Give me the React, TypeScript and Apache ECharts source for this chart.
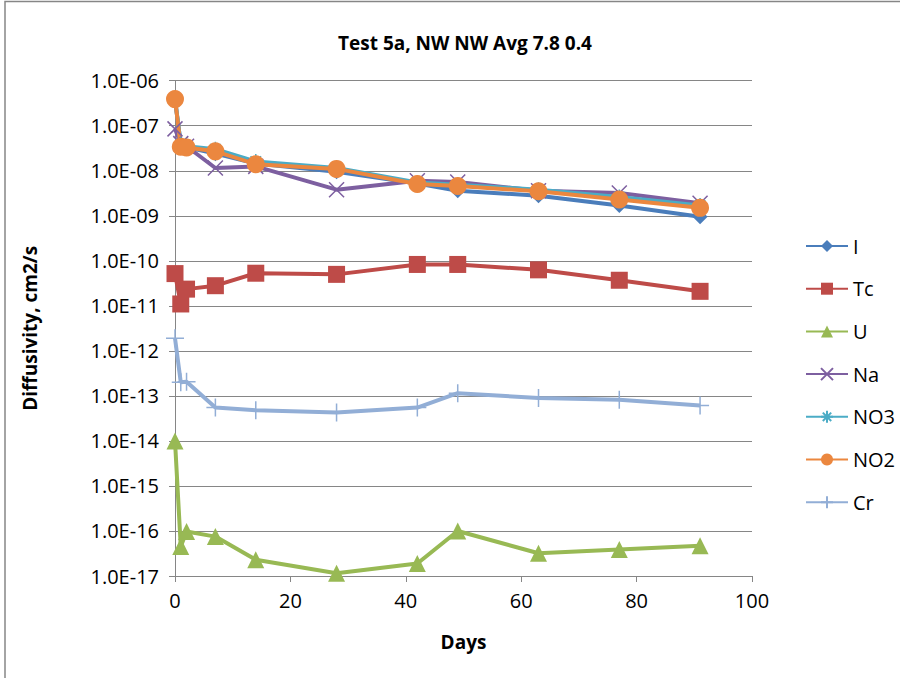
import React, { useEffect, useRef } from "react";
import * as echarts from "echarts";

const days = [0, 1, 2, 7, 14, 28, 42, 49, 63, 77, 91];
const seriesNames = ["I", "Tc", "U", "Na", "NO3", "NO2", "Cr"];
const valI = [3.7e-7, 4.0e-8, 3.3e-8, 2.4e-8, 1.45e-8, 9.5e-9, 5.2e-9, 3.6e-9, 2.8e-9, 1.7e-9, 9.5e-10];
const valTc = [5.2e-11, 1.1e-11, 2.35e-11, 2.8e-11, 5.3e-11, 5.0e-11, 8.3e-11, 8.3e-11, 6.3e-11, 3.7e-11, 2.1e-11];
const valU = [1.0e-14, 4.5e-17, 9.7e-17, 7.5e-17, 2.3e-17, 1.15e-17, 1.9e-17, 1.0e-16, 3.2e-17, 3.9e-17, 4.7e-17];
const valNa = [8.5e-8, 4.0e-8, 3.5e-8, 1.15e-8, 1.25e-8, 3.8e-9, 6.0e-9, 5.6e-9, 3.6e-9, 3.2e-9, 1.9e-9];
const valNO3 = [4.1e-7, 3.8e-8, 3.5e-8, 3.0e-8, 1.6e-8, 1.15e-8, 5.5e-9, 4.9e-9, 3.8e-9, 2.6e-9, 1.7e-9];
const valNO2 = [3.9e-7, 3.4e-8, 3.3e-8, 2.7e-8, 1.4e-8, 1.1e-8, 5.1e-9, 4.6e-9, 3.5e-9, 2.3e-9, 1.5e-9];
const valCr = [1.9e-12, 2.0e-13, 2.05e-13, 5.5e-14, 4.8e-14, 4.3e-14, 5.5e-14, 1.15e-13, 9.0e-14, 8.2e-14, 6.1e-14];

const FONT = "'Open Sans', 'Noto Sans', sans-serif";

export default function App() {
  const ref = useRef<HTMLDivElement>(null);
  useEffect(() => {
    document.body.style.margin = "0";
    if (!ref.current) return;
    const chart = echarts.init(ref.current, null, { renderer: "svg" });
    const values = [valI, valTc, valU, valNa, valNO3, valNO2, valCr];
    const colors = ["#4A7DBB", "#BE4B48", "#98B954", "#7D5FA0", "#4BACC6", "#EB873F", "#92AED6"];
    const symbols = [
      "diamond",
      "rect",
      "triangle",
      "path://M0,0L10,10M10,0L0,10",
      "path://M5,0L5,10M0,5L10,5M1.5,1.5L8.5,8.5M8.5,1.5L1.5,8.5",
      "circle",
      "path://M5,0L5,10M0,5L10,5",
    ];
    const sizes = [15, 17, 17, 15, 15, 18, 18];
    const stroked = [false, false, false, true, true, false, true];
    const series = seriesNames.map((name, i) => ({
      name,
      type: "line",
      data: days.map((d, k) => [d, values[i][k]]),
      symbol: symbols[i],
      symbolSize: sizes[i],
      showAllSymbol: true,
      color: colors[i],
      lineStyle: { width: 4, color: colors[i] },
      itemStyle: stroked[i]
        ? { color: colors[i], borderColor: colors[i], borderWidth: 1.5 }
        : { color: colors[i], borderWidth: 0 },
      emphasis: { disabled: true },
    }));
    const fmt = (v: number) => {
      const e = Math.round(Math.log10(v));
      return "1.0E" + (e < 0 ? "-" : "+") + String(Math.abs(e)).padStart(2, "0");
    };
    chart.setOption({
      animation: false,
      title: {
        text: "Test 5a, NW NW Avg 7.8 0.4",
        left: 460,
        textAlign: "center",
        top: 28,
        textStyle: { fontFamily: FONT, fontSize: 19, fontWeight: "bold", color: "#000" },
      },
      grid: { left: 175, right: 148, top: 80.7, bottom: 102 },
      legend: {
        orient: "vertical",
        left: 800,
        top: 231,
        itemWidth: 42,
        itemHeight: 15,
        itemGap: 22.7,
        data: seriesNames,
        textStyle: { fontFamily: FONT, fontSize: 20, color: "#000", lineHeight: 20, padding: [0, 0, 0, 0] },
      },
      xAxis: {
        type: "value",
        min: 0,
        max: 100,
        interval: 20,
        name: "Days",
        nameLocation: "middle",
        nameGap: 56,
        nameTextStyle: { fontFamily: FONT, fontSize: 19, fontWeight: "bold", color: "#000" },
        axisLine: { lineStyle: { color: "#868686", width: 1 } },
        axisTick: { show: true, inside: false, length: 6, lineStyle: { color: "#868686" } },
        axisLabel: { fontFamily: FONT, fontSize: 20, color: "#000", margin: 14 },
        splitLine: { show: false },
      },
      yAxis: {
        type: "log",
        logBase: 10,
        min: 1e-17,
        max: 1e-6,
        interval: 1,
        name: "Diffusivity, cm2/s",
        nameLocation: "middle",
        nameGap: 136,
        nameTextStyle: { fontFamily: FONT, fontSize: 19, fontWeight: "bold", color: "#000" },
        axisLine: { show: true, lineStyle: { color: "#868686", width: 1 } },
        axisTick: { show: true, inside: false, length: 6, lineStyle: { color: "#868686" } },
        axisLabel: { fontFamily: FONT, fontSize: 20, color: "#000", margin: 16, formatter: fmt, showMinLabel: true, showMaxLabel: true },
        splitLine: { show: true, lineStyle: { color: "#868686", width: 1 } },
        minorTick: { show: false },
      },
      graphic: [
        {
          type: "rect",
          shape: { x: 5, y: 1.5, width: 1000, height: 1000 },
          style: { fill: "none", stroke: "#868686", lineWidth: 1.5 },
          silent: true,
        },
      ],
      series,
    });
    return () => chart.dispose();
  }, []);
  return <div ref={ref} style={{ width: 900, height: 678 }} />;
}
